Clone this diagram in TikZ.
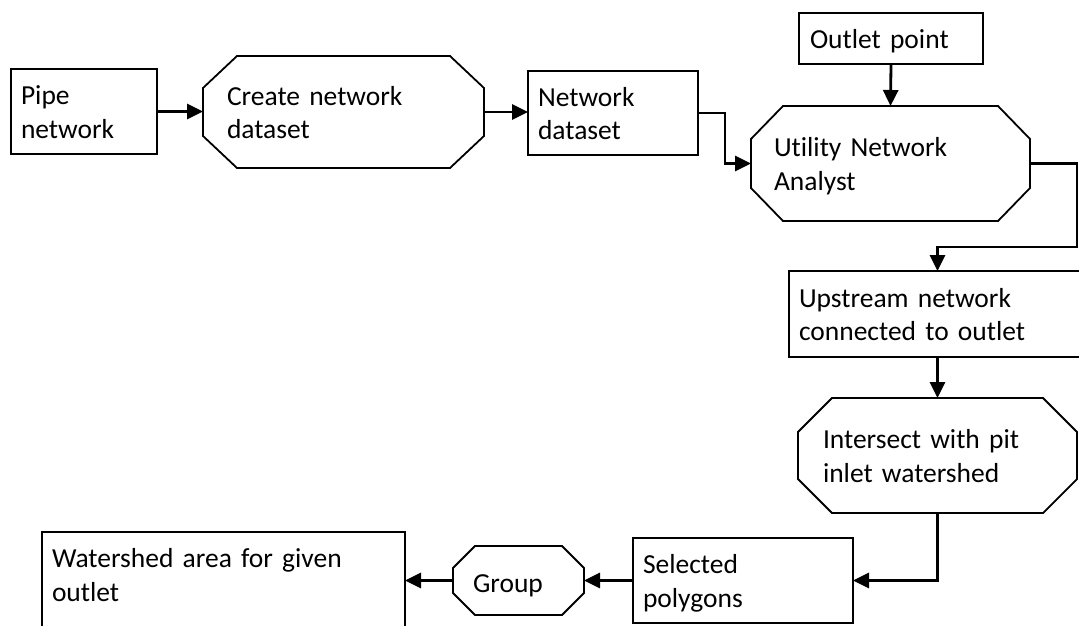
\documentclass[tikz,border=0pt]{standalone}
\usepackage{fontspec}
\setmainfont{Carlito}[Ligatures=NoCommon]
\usetikzlibrary{arrows.meta,calc}
\newcommand\ms{\rule[-8pt]{0pt}{35.5pt}}
\newcommand\octoutline[3]{\draw[shapeline] ($(#1.north west)+(#2,0)$) -- ($(#1.north east)+(-#2,0)$) -- ($(#1.north east)+(0,#3)$) -- ($(#1.south east)+(0,-#3)$) -- ($(#1.south east)+(-#2,0)$) -- ($(#1.south west)+(#2,0)$) -- ($(#1.south west)+(0,-#3)$) -- ($(#1.north west)+(0,#3)$) -- cycle;}
\begin{document}
\begin{tikzpicture}[x=1pt,y=-1pt,
  txt/.style={font={\fontsize{27.5}{33.5}\selectfont\lineskiplimit=-100pt}, align=left, inner ysep=0pt, outer sep=0pt},
  box/.style={txt, draw, line width=1.8pt, inner xsep=10pt},
  octnode/.style={txt, inner xsep=#1},
  shapeline/.style={line width=1.8pt},
  conn/.style={line width=2.8pt, -{Triangle[length=16pt,width=15pt]}},
]
\useasboundingbox (0,0) rectangle (1079,625);
\clip (0,0) rectangle (1079,625);

\node[box, text width=126pt, minimum height=85pt] (pipe) at (84,111.5) {\ms Pipe\\\ms network};
\node[octnode=24pt, text width=233pt, minimum height=112pt] (create) at (343.5,112) {\ms Create network\\\ms dataset};
\octoutline{create}{34}{32}
\node[box, text width=150pt, minimum height=84pt] (netds) at (613,113) {\ms Network\\\ms dataset};
\node[box, inner xsep=11pt, text width=162pt, minimum height=51pt] (outlet) at (891,38.5) {\ms Outlet point};
\node[octnode=23pt, text width=233pt, minimum height=115pt] (una) at (890.5,163.5) {\ms Utility Network\\\ms Analyst};
\octoutline{una}{32}{33}
\node[box, anchor=west, text width=300pt, minimum height=86pt] (up) at (789,314) {\ms Upstream network\\\ms connected to outlet};
\node[octnode=25pt, text width=229pt, minimum height=115pt] (inter) at (937.5,455.5) {\ms Intersect with pit\\\ms inlet watershed};
\octoutline{inter}{34}{34}
\node[box, text width=200pt, minimum height=85pt] (sel) at (743,580.5) {\ms Selected\\\ms polygons};
\node[octnode=20pt, text width=91pt, minimum height=69pt] (group) at (518.5,580.5) {\rule[-6pt]{0pt}{35pt}Group};
\octoutline{group}{22}{22}
\node[txt, inner xsep=10pt, text width=343pt, minimum height=85pt] (ws) at (223.5,574.5) {\ms Watershed area for given\\\ms outlet};
\draw[shapeline] ($(ws.south west)+(0,30)$) -- (ws.north west) -- (ws.north east) -- ($(ws.south east)+(0,30)$);

\coordinate (r1) at (1077,247);
\draw[conn] (pipe.east) -- (pipe.east -| create.west);
\draw[conn] (create.east) -- (create.east -| netds.west);
\draw[conn] (netds.east) -- ++(27,0) |- (una.west);
\draw[conn] (outlet.south) -- (una.north);
\draw[conn] (una.east) -| (r1) -| (inter.north |- up.north);
\draw[conn] (inter.north |- up.south) -- (inter.north);
\draw[conn] (inter.south) |- (sel.east);
\draw[conn] (sel.west) -- (group.east);
\draw[conn] (group.west) -- (group.west -| ws.east);
\end{tikzpicture}
\end{document}
